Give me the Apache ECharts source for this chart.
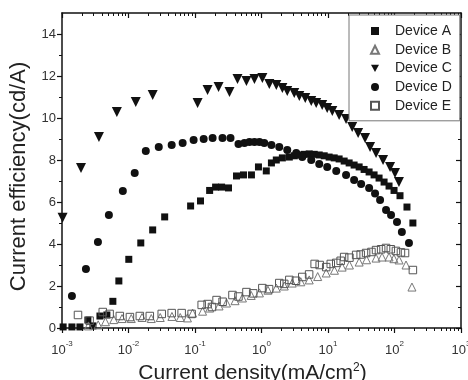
<!DOCTYPE html>
<html><head><meta charset="utf-8">
<script src="https://cdn.jsdelivr.net/npm/echarts@6/dist/echarts.min.js"></script>
<style>html,body{margin:0;padding:0;background:#fff}#c{width:468px;height:380px}</style>
</head><body><div id="c"></div>
<script>
// ---- data (x: current density mA/cm2, y: current efficiency cd/A)
const seriesNames = ['Device A', 'Device B', 'Device C', 'Device D', 'Device E'];
const deviceA = [[0.00104,0.05],[0.00141,0.05],[0.00186,0.05],[0.00245,0.38],[0.00292,0.1],[0.00372,0.57],[0.00473,0.62],
  [0.00582,1.27],[0.00716,2.24],[0.0101,3.27],[0.0153,4.05],[0.0231,4.67],[0.035,5.29],[0.0859,5.81],[0.121,6.05],
  [0.166,6.55],[0.204,6.71],[0.251,6.71],[0.319,6.67],[0.421,7.24],[0.536,7.29],[0.706,7.29],[0.90,7.67],[1.18,7.48],
  [1.41,7.86],[1.67,8.0],[2.06,8.1],[2.62,8.14],[3.11,8.2],[3.70,8.24],[4.40,8.27],[5.22,8.29],[6.21,8.27],[7.38,8.24],
  [8.77,8.2],[10.4,8.14],[12.4,8.1],[14.7,8.05],[17.5,7.95],[20.8,7.86],[24.7,7.76],[29.4,7.67],[34.9,7.55],[41.5,7.43],
  [49.3,7.29],[58.6,7.14],[69.7,6.95],[82.8,6.76],[98.4,6.55],[121,6.3],[154,5.76],[189,5.0]];
const deviceB = [[0.0025,0.1],[0.0035,0.15],[0.0045,0.3],[0.006,0.4],[0.008,0.45],[0.011,0.45],[0.016,0.5],[0.022,0.45],
  [0.03,0.5],[0.045,0.55],[0.06,0.5],[0.077,0.48],[0.092,0.71],[0.13,0.8],[0.166,0.95],[0.23,1.05],[0.298,1.19],[0.4,1.3],
  [0.517,1.43],[0.7,1.55],[0.931,1.67],[1.25,1.8],[1.67,1.9],[2.2,2.0],[2.9,2.14],[3.9,2.2],[5.22,2.29],[7.0,2.45],
  [9.4,2.62],[12.5,2.75],[16.3,2.9],[21,3.0],[29.4,3.14],[38,3.25],[52.8,3.33],[65,3.38],[82.8,3.38],[98,3.3],
  [117,3.24],[149,3.0],[183,1.95]];
const deviceC = [[0.00102,5.25],[0.00193,7.62],[0.00359,9.10],[0.00668,10.29],[0.01285,10.76],[0.0231,11.10],[0.1094,10.71],
  [0.1545,11.33],[0.226,11.48],[0.330,11.24],[0.436,11.86],[0.594,11.76],[0.783,11.86],[1.03,11.90],[1.31,11.62],
  [1.67,11.57],[2.06,11.43],[2.44,11.29],[3.11,11.19],[3.70,11.05],[4.55,10.95],[5.60,10.81],[6.65,10.71],[8.18,10.62],
  [9.73,10.48],[11.6,10.33],[14.7,10.14],[18.7,9.95],[23.1,9.57],[28.4,9.29],[36.1,9.05],[42.9,8.62],[52.8,8.33],
  [67.3,8.0],[85.7,7.67],[101.7,7.38],[116.7,6.95]];
const deviceD = [[0.00141,1.52],[0.00229,2.81],[0.00347,4.10],[0.00507,5.38],[0.00822,6.52],[0.0124,7.38],[0.0182,8.43],
  [0.0285,8.62],[0.0446,8.71],[0.0652,8.81],[0.0953,8.95],[0.135,9.0],[0.184,9.05],[0.259,9.05],[0.342,9.05],[0.451,8.76],
  [0.554,8.81],[0.659,8.86],[0.783,8.86],[0.931,8.86],[1.10,8.81],[1.41,8.71],[1.85,8.62],[2.44,8.48],[3.33,8.33],
  [4.10,8.14],[5.60,8.0],[7.38,7.81],[9.73,7.67],[13.3,7.48],[18.7,7.29],[24.7,7.05],[31.5,6.86],[41.5,6.67],[51.0,6.4],
  [60.7,6.1],[74.6,5.62],[88.7,5.38],[109,5.05],[129,4.57],[165,4.05]];
const deviceE = [[0.00174,0.62],[0.0026,0.35],[0.0041,0.76],[0.0052,0.67],[0.0074,0.57],[0.0105,0.52],[0.0148,0.57],
  [0.0209,0.57],[0.0316,0.67],[0.0446,0.71],[0.063,0.71],[0.089,0.67],[0.126,1.10],[0.155,1.14],[0.18,1.0],[0.211,1.33],
  [0.26,1.25],[0.366,1.57],[0.45,1.5],[0.594,1.71],[0.75,1.65],[1.03,1.90],[1.3,1.85],[1.85,2.14],[2.2,2.1],[2.62,2.29],
  [3.3,2.25],[4.1,2.43],[5.2,2.55],[6.3,3.05],[7.5,3.0],[9.4,2.9],[11,3.05],[13.3,3.1],[15.5,3.2],[17.5,3.38],[21,3.35],
  [26.5,3.48],[31,3.5],[37.4,3.57],[45,3.62],[52.8,3.71],[63,3.75],[74.6,3.81],[88,3.75],[105,3.67],[125,3.6],[144,3.57],
  [189,2.76]];
const xTickExponents = [-3, -2, -1, 0, 1, 2, 3];
const yTickValues = [0, 2, 4, 6, 8, 10, 12, 14];

// ---- chart
const xMinorTicks = [];
xTickExponents.slice(0, -1).forEach(e => { for (let m = 2; m <= 9; m++) xMinorTicks.push(m * Math.pow(10, e)); });
const xMajorTicks = xTickExponents.map(e => Math.pow(10, e));
const AX = '#111';
const baseLog = { type: 'log', logBase: 10, min: 0.001, max: 1000, gridIndex: 0 };
const hollow = 'rgba(255,255,255,0)';
const downTriangle = 'path://M0,0L10,0L5,9Z';

const chart = echarts.init(document.getElementById('c'), null, { renderer: 'canvas' });
chart.setOption({
  animation: false,
  backgroundColor: '#fff',
  textStyle: { fontFamily: 'Liberation Sans, Arial, sans-serif' },
  grid: { left: 62, right: 7, top: 13, bottom: 52, containLabel: false, outerBoundsMode: 'none' },
  legend: {
    orient: 'vertical', left: 349, top: 15,
    padding: [9, 8, 8, 21],
    itemWidth: 8, itemHeight: 8, itemGap: 4.7,
    borderColor: '#777', borderWidth: 1, backgroundColor: '#fff',
    textStyle: { fontSize: 14, color: '#222', lineHeight: 14, padding: [0, 0, 0, 11] },
    data: [
      { name: seriesNames[0], icon: 'rect' },
      { name: seriesNames[1], icon: 'triangle' },
      { name: seriesNames[2], icon: downTriangle },
      { name: seriesNames[3], icon: 'circle' },
      { name: seriesNames[4], icon: 'rect' }
    ]
  },
  xAxis: [
    Object.assign({}, baseLog, {
      position: 'bottom',
      axisLine: { show: true, lineStyle: { color: AX, width: 1.5 } },
      axisTick: { show: true, inside: false, length: 5, customValues: xMajorTicks, lineStyle: { color: AX, width: 1.2 } },
      axisLabel: {
        customValues: xMajorTicks, margin: 12, color: '#333',
        formatter: v => '{b|10}{s|' + Math.round(Math.log10(v)) + '}',
        rich: { b: { fontSize: 13, color: '#333', verticalAlign: 'bottom', lineHeight: 17 },
                s: { fontSize: 8, color: '#333', verticalAlign: 'top', lineHeight: 17 } }
      },
      splitLine: { show: false },
      name: 'Current density(mA/cm{sup|2})', nameLocation: 'middle', nameGap: 34,
      nameTextStyle: { fontSize: 21, color: '#222', padding: [0, 18, 0, 0], lineHeight: 22,
        rich: { sup: { fontSize: 12, verticalAlign: 'top', color: '#222', lineHeight: 22 } } }
    }),
    Object.assign({}, baseLog, {
      position: 'bottom',
      axisLine: { show: false },
      axisTick: { show: true, inside: false, length: 3, customValues: xMinorTicks, lineStyle: { color: AX, width: 1 } },
      axisLabel: { show: false }, splitLine: { show: false }
    }),
    Object.assign({}, baseLog, {
      position: 'top',
      axisLine: { show: true, lineStyle: { color: AX, width: 1.5 } },
      axisTick: { show: true, inside: true, length: 5, customValues: xMajorTicks, lineStyle: { color: AX, width: 1.2 } },
      axisLabel: { show: false }, splitLine: { show: false }
    }),
    Object.assign({}, baseLog, {
      position: 'top',
      axisLine: { show: false },
      axisTick: { show: true, inside: true, length: 3, customValues: xMinorTicks, lineStyle: { color: AX, width: 1 } },
      axisLabel: { show: false }, splitLine: { show: false }
    })
  ],
  yAxis: [
    {
      type: 'value', min: 0, max: 15, interval: 2, position: 'left',
      axisLine: { show: true, lineStyle: { color: AX, width: 1.5 } },
      axisTick: { show: true, inside: false, length: 5, customValues: yTickValues, lineStyle: { color: AX, width: 1.2 } },
      minorTick: { show: true, splitNumber: 2, length: 3, lineStyle: { color: AX, width: 1 } },
      axisLabel: { customValues: yTickValues, fontSize: 13, color: '#333', margin: 6 },
      splitLine: { show: false }, minorSplitLine: { show: false },
      name: 'Current efficiency(cd/A)', nameLocation: 'middle', nameGap: 32,
      nameTextStyle: { fontSize: 22, color: '#222', padding: [0, 12, 0, 0] }
    },
    {
      type: 'value', min: 0, max: 15, interval: 2, position: 'right',
      axisLine: { show: true, lineStyle: { color: AX, width: 1.5 } },
      axisTick: { show: true, inside: true, length: 5, customValues: yTickValues, lineStyle: { color: AX, width: 1.2 } },
      minorTick: { show: true, splitNumber: 2, length: 3, lineStyle: { color: AX, width: 1 } },
      axisLabel: { show: false }, splitLine: { show: false }
    }
  ],
  series: [
    { name: 'Device A', type: 'scatter', data: deviceA, symbol: 'rect', symbolSize: 7,
      itemStyle: { color: '#111', opacity: 1 } },
    { name: 'Device B', type: 'scatter', data: deviceB, symbol: 'triangle', symbolSize: 8,
      itemStyle: { color: hollow, borderColor: '#777', borderWidth: 1, opacity: 1 } },
    { name: 'Device C', type: 'scatter', data: deviceC, symbol: 'triangle', symbolRotate: 180, symbolSize: 10,
      itemStyle: { color: '#111', opacity: 1 } },
    { name: 'Device D', type: 'scatter', data: deviceD, symbol: 'circle', symbolSize: 8,
      itemStyle: { color: '#111', opacity: 1 } },
    { name: 'Device E', type: 'scatter', data: deviceE, symbol: 'rect', symbolSize: 7.5,
      itemStyle: { color: hollow, borderColor: '#555', borderWidth: 1, opacity: 1 } }
  ]
});
</script>
</body></html>
